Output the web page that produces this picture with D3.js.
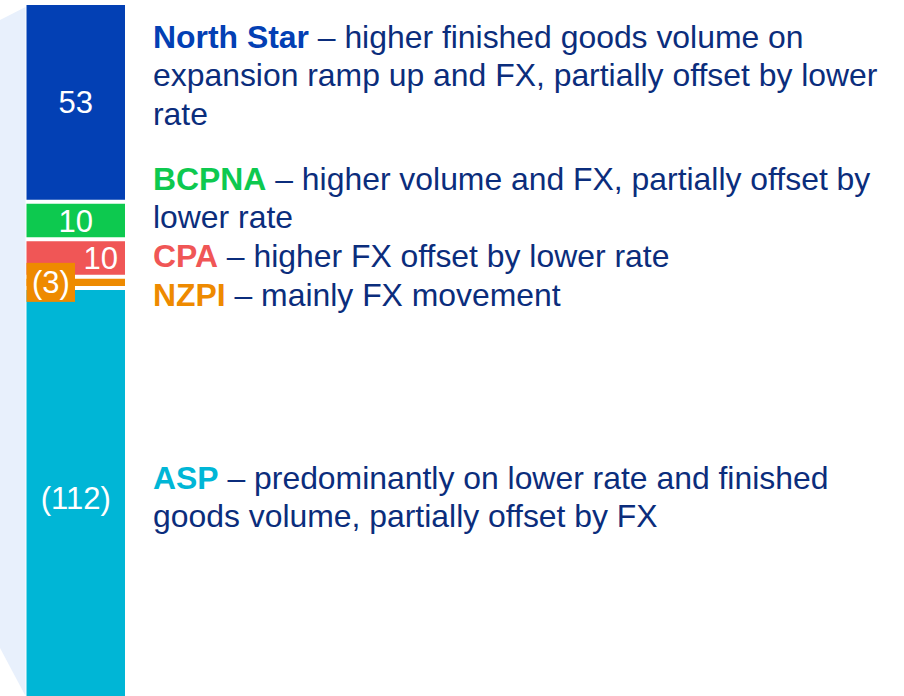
<!DOCTYPE html>
<html>
<head>
<meta charset="utf-8">
<script src="https://cdn.jsdelivr.net/npm/d3@7"></script>
<style>
  body { margin: 0; background: #fff; }
  text { font-family: Arial, "Liberation Sans", sans-serif; }
</style>
</head>
<body>
<script>
// data
const categories = ['North Star', 'BCPNA', 'CPA', 'NZPI', 'ASP'];
const values = [53, 10, 10, -3, -112];
const valueLabels = ['53', '10', '10', '(3)', '(112)'];
const descriptions = [
  [' \u2013 higher finished goods volume on', 'expansion ramp up and FX, partially offset by lower', 'rate'],
  [' \u2013 higher volume and FX, partially offset by', 'lower rate'],
  [' \u2013 higher FX offset by lower rate'],
  [' \u2013 mainly FX movement'],
  [' \u2013 predominantly on lower rate and finished', 'goods volume, partially offset by FX']
];

const colors = ['#0340b4', '#0dc94f', '#f05656', '#ee8a00', '#00b6d6'];
const textColor = '#0b2d7c';

const W = 904, H = 696;
const svg = d3.select('body').append('svg')
  .attr('width', W)
  .attr('height', H);

// light background shape on the left
svg.append('polygon')
  .attr('points', '0,20 25.5,7 25.5,696 0,648')
  .attr('fill', '#e8f0fc');

// cumulative offsets, top down
let cum = 0;
const segs = values.map((v, i) => {
  const s = { i, start: cum, size: Math.abs(v) };
  cum += Math.abs(v);
  return s;
});

const y = d3.scaleLinear().domain([0, cum]).range([5, 5 + cum * 3.75]);
const x = d3.scaleBand().domain(['bar']).range([26.5, 125]).padding(0);
const gap = 4;

svg.selectAll('rect.seg')
  .data(segs).enter()
  .append('rect')
  .attr('class', 'seg')
  .attr('x', x('bar'))
  .attr('width', x.bandwidth())
  .attr('y', d => y(d.start))
  .attr('height', d => y(d.start + d.size) - y(d.start) - gap)
  .attr('fill', d => colors[d.i]);

const mid = d => (y(d.start) + y(d.start + d.size) - gap) / 2;

// small box behind the thin NZPI label
const nz = segs[3];
svg.append('rect')
  .attr('x', x('bar'))
  .attr('width', 48.5)
  .attr('y', mid(nz) - 19.5)
  .attr('height', 39)
  .attr('fill', colors[3]);

// value labels
svg.selectAll('text.val')
  .data(segs).enter()
  .append('text')
  .attr('class', 'val')
  .attr('x', d => {
    if (d.i === 2) return x('bar') + x.bandwidth() - 7;
    if (d.i === 3) return x('bar') + 24.5;
    return x('bar') + x.bandwidth() / 2;
  })
  .attr('y', d => mid(d) + 11)
  .attr('text-anchor', d => d.i === 2 ? 'end' : 'middle')
  .attr('font-size', 31)
  .attr('fill', '#fff')
  .text(d => valueLabels[d.i]);

// commentary
const firstBaseline = [48, 190, 267, 305.5, 489];
const lineH = 38.4;

categories.forEach((c, i) => {
  const t = svg.append('text')
    .attr('x', 153)
    .attr('y', firstBaseline[i])
    .attr('font-size', 31.9)
    .attr('fill', textColor);
  descriptions[i].forEach((line, j) => {
    if (j === 0) {
      t.append('tspan')
        .attr('font-weight', 'bold')
        .attr('fill', colors[i])
        .text(c);
      t.append('tspan').text(line);
    } else {
      t.append('tspan')
        .attr('x', 153)
        .attr('dy', lineH)
        .text(line);
    }
  });
});
</script>
</body>
</html>
